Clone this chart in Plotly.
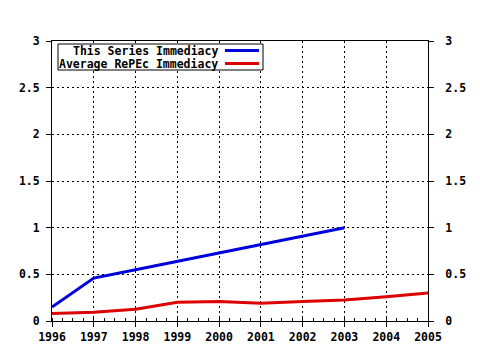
import plotly.graph_objects as go

years = [1996, 1997, 1998, 1999, 2000, 2001, 2002, 2003, 2004, 2005]
series_years = [1996, 1997, 1998, 1999, 2000, 2001, 2002, 2003]
series_vals = [0.15, 0.46, 0.55, 0.64, 0.73, 0.82, 0.91, 1.0]
avg_vals = [0.08, 0.093, 0.125, 0.20, 0.21, 0.19, 0.21, 0.225, 0.26, 0.30]
names = ["This Series Immediacy", "Average RePEc Immediacy"]
colors = ["#0000dd", "#dd0000"]
y_ticks = [0, 0.5, 1, 1.5, 2, 2.5, 3]
y_labels = ["0", "0.5", "1", "1.5", "2", "2.5", "3"]

FONT = dict(family="DejaVu Sans Mono", size=11.5, color="black", weight="bold")
LFONT = dict(family="DejaVu Sans Mono", size=11.5, color="black", weight="bold")

fig = go.Figure()
fig.add_trace(go.Scatter(x=series_years, y=series_vals, mode="lines",
                         line=dict(color=colors[0], width=3), name=names[0]))
fig.add_trace(go.Scatter(x=years, y=avg_vals, mode="lines",
                         line=dict(color=colors[1], width=3), name=names[1]))
# invisible trace to activate right axis
fig.add_trace(go.Scatter(x=years, y=avg_vals, mode="lines", yaxis="y2",
                         line=dict(color="rgba(0,0,0,0)", width=0),
                         showlegend=False, hoverinfo="skip"))

W, H = 480, 350
L, R, T, B = 52, 52, 41, 29
pw, ph = W - L - R, H - T - B

def px(x):
    return (x - L) / pw

def py(y):
    return (H - B - y) / ph

shapes = [dict(type="rect", xref="paper", yref="paper",
               x0=px(58), x1=px(263), y0=py(70), y1=py(44),
               line=dict(color="black", width=1), fillcolor="white", layer="above")]
annotations = []
rows = [50.5, 63.5]
for i in range(2):
    shapes.append(dict(type="line", xref="paper", yref="paper",
                       x0=px(225), x1=px(259), y0=py(rows[i]), y1=py(rows[i]),
                       line=dict(color=colors[i], width=3), layer="above"))
    annotations.append(dict(xref="paper", yref="paper", x=px(219), y=py(rows[i]),
                            xanchor="right", yanchor="middle", text=names[i],
                            showarrow=False, font=LFONT, borderpad=0))

axis_common = dict(showline=True, linecolor="black", linewidth=1,
                   ticks="outside", ticklen=5, tickcolor="black",
                   tickfont=FONT, zeroline=False, automargin=False)

fig.update_layout(
    width=W, height=H, margin=dict(l=L, r=R, t=T, b=B, autoexpand=False),
    paper_bgcolor="white", plot_bgcolor="white", showlegend=False,
    shapes=shapes, annotations=annotations,
    xaxis=dict(range=[1996, 2005], tickvals=years, ticktext=[str(y) for y in years],
               mirror=True, showgrid=True, gridcolor="black", gridwidth=1,
               griddash="2px,3px",
               minor=dict(ticks="inside", ticklen=3, dtick=0.25, tick0=1996,
                          tickcolor="black", showgrid=False),
               **axis_common),
    yaxis=dict(range=[0, 3], tickvals=y_ticks, ticktext=y_labels,
               showgrid=True, gridcolor="black", gridwidth=1, griddash="2px,3px",
               ticklabelstandoff=4, **axis_common),
    yaxis2=dict(range=[0, 3], tickvals=y_ticks, ticktext=y_labels, overlaying="y",
                side="right", showgrid=False, ticklabelstandoff=9, **axis_common),
)

fig.write_html("out.html")
